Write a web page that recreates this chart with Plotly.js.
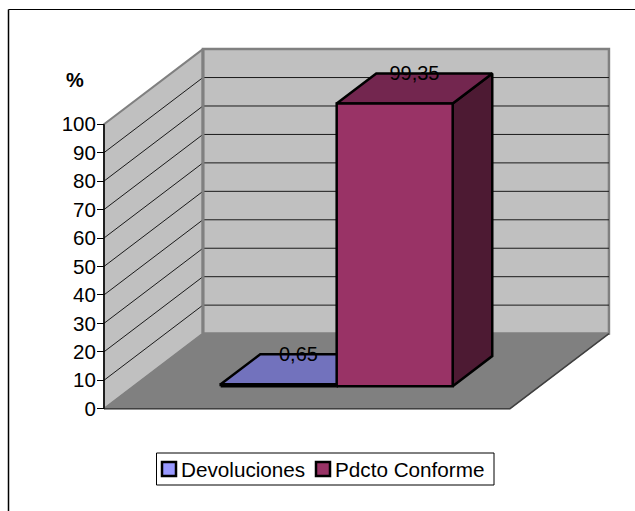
<!DOCTYPE html>
<html>
<head>
<meta charset="utf-8">
<script src="https://cdn.plot.ly/plotly-3.0.0.min.js"></script>
<style>html,body{margin:0;padding:0;background:#fff;overflow:hidden}#chart{width:635px;height:511px}</style>
</head>
<body>
<div id="chart"></div>
<script>
var seriesNames = ["Devoluciones", "Pdcto Conforme"];
var seriesValues = [0.65, 99.35];
var valueLabels = ["0,65", "99,35"];
var tickValues = [0, 10, 20, 30, 40, 50, 60, 70, 80, 90, 100];
var frontColors = ["#9999FF", "#993366"];
var topColors = ["#7272BD", "#73264F"];
var sideColors = ["#4D4D80", "#4D1A33"];

var W = 635, H = 511, axisLeft = 104, axisBottom = 408.7, pxPerUnitX = 116, pxPerUnitY = 2.845;
var gapUnits = 1.5, xMax = seriesValues.length + gapUnits;
var depthX = 0.853, depthY = 26.4, barD0 = 0.3, barD1 = 0.7, labelDrop = 0.5;
var fontFamily = "Liberation Sans, Arial, sans-serif";
function px(u, d) { return u + d * depthX; }
function py(v, d) { return v + d * depthY; }
function poly(pts, fill, lineColor, lineWidth, name) {
  return { type: "scatter", mode: "lines", name: name || "", x: pts.map(function (p) { return px(p[0], p[2]); }),
    y: pts.map(function (p) { return py(p[1], p[2]); }), fill: fill ? "toself" : "none", fillcolor: fill || undefined,
    line: { color: lineColor, width: lineWidth, shape: "linear" }, showlegend: false, hoverinfo: "skip" };
}
var traces = [];
// walls and floor
traces.push(poly([[0,0,0],[0,0,1],[0,100,1],[0,100,0],[0,0,0]], "#C0C0C0", "#808080", 2));
traces.push(poly([[0,0,1],[xMax,0,1],[xMax,100,1],[0,100,1],[0,0,1]], "#C0C0C0", "#808080", 2.5));
traces.push(poly([[0,0,0],[xMax,0,0],[xMax,0,1],[0,0,1],[0,0,0]], "#808080", "#808080", 1));
traces.push(poly([[0,0,0],[xMax,0,0],[xMax,0,1]], null, "#404040", 1.5));
tickValues.forEach(function (v) {
  if (v > 0 && v < 100) traces.push(poly([[0,v,0],[0,v,1],[xMax,v,1]], null, "#1a1a1a", 1));
});
traces.push(poly([[0,100,1],[0,0,1]], null, "#808080", 3));
traces.push(poly([[0,0,0],[0,100,0]], null, "#000", 1.5));
// bars
seriesValues.forEach(function (v, i) {
  var a = gapUnits / 2 + i, b = a + 1;
  traces.push(poly([[b,0,barD0],[b,0,barD1],[b,v,barD1],[b,v,barD0],[b,0,barD0]], sideColors[i], "#000", 2.5));
  traces.push(poly([[a,v,barD0],[b,v,barD0],[b,v,barD1],[a,v,barD1],[a,v,barD0]], topColors[i], "#000", 2.5));
  traces.push(poly([[a,0,barD0],[b,0,barD0],[b,v,barD0],[a,v,barD0],[a,0,barD0]], frontColors[i], "#000", 2.5, seriesNames[i]));
});
// value labels
seriesValues.forEach(function (v, i) {
  traces.push({ type: "scatter", mode: "text", x: [px(gapUnits / 2 + i + 0.5, 0.5)], y: [py(v, barD1) - labelDrop], text: [valueLabels[i]],
    textposition: "middle center", textfont: { family: fontFamily, size: 20, color: "#000" },
    showlegend: false, hoverinfo: "skip" });
});

function paperX(p) { return p / W; }
function paperY(p) { return 1 - p / H; }

// hand-laid legend, to keep the compact swatch spacing of the reference
var legendText = [182, 336], legendSwatch = [162, 316], legendTop = 453, legendBottom = 485, legendMid = 469;
var shapes = [
  { type: "line", xref: "paper", yref: "paper", x0: paperX(8.5), x1: paperX(8.5), y0: paperY(9.5), y1: 0, line: { color: "#000", width: 1.5 } },
  { type: "line", xref: "paper", yref: "paper", x0: paperX(8.5), x1: 1, y0: paperY(9.5), y1: paperY(9.5), line: { color: "#000", width: 1 } },
  { type: "rect", xref: "paper", yref: "paper", x0: paperX(156.5), x1: paperX(494), y0: paperY(legendTop), y1: paperY(legendBottom), fillcolor: "#fff", line: { color: "#000", width: 1 } }
];
var annotations = [{ xref: "paper", yref: "paper", x: paperX(75), y: paperY(80), text: "<b>%</b>", showarrow: false,
  font: { family: fontFamily, size: 20, color: "#000" }, xanchor: "center", yanchor: "middle" }];
seriesNames.forEach(function (n, i) {
  shapes.push({ type: "rect", xref: "paper", yref: "paper", x0: paperX(legendSwatch[i]), x1: paperX(legendSwatch[i] + 14),
    y0: paperY(legendMid - 7), y1: paperY(legendMid + 7), fillcolor: frontColors[i], line: { color: "#000", width: 2.5 } });
  annotations.push({ xref: "paper", yref: "paper", x: paperX(legendText[i]), y: paperY(legendMid), text: n, showarrow: false,
    font: { family: fontFamily, size: 20.7, color: "#000" }, xanchor: "left", yanchor: "middle", xshift: -3 });
});

var layout = {
  width: W, height: H, paper_bgcolor: "#fff", plot_bgcolor: "rgba(0,0,0,0)",
  margin: { l: 0, r: 0, t: 0, b: 0, pad: 0, autoexpand: false },
  font: { family: fontFamily, size: 20, color: "#000" },
  xaxis: { range: [-axisLeft / pxPerUnitX, (W - axisLeft) / pxPerUnitX], visible: false, fixedrange: true },
  yaxis: { range: [(axisBottom - H) / pxPerUnitY, axisBottom / pxPerUnitY], anchor: "free", position: axisLeft / W,
    tickvals: tickValues, ticks: "outside", ticklen: 7, tickwidth: 1, tickcolor: "#000",
    showline: false, showgrid: false, zeroline: false,
    tickfont: { family: fontFamily, size: 20.5, color: "#000" }, ticklabelstandoff: -3, fixedrange: true },
  annotations: annotations, shapes: shapes, showlegend: false
};
Plotly.newPlot("chart", traces, layout, { displayModeBar: false, staticPlot: true });
</script>
</body>
</html>
